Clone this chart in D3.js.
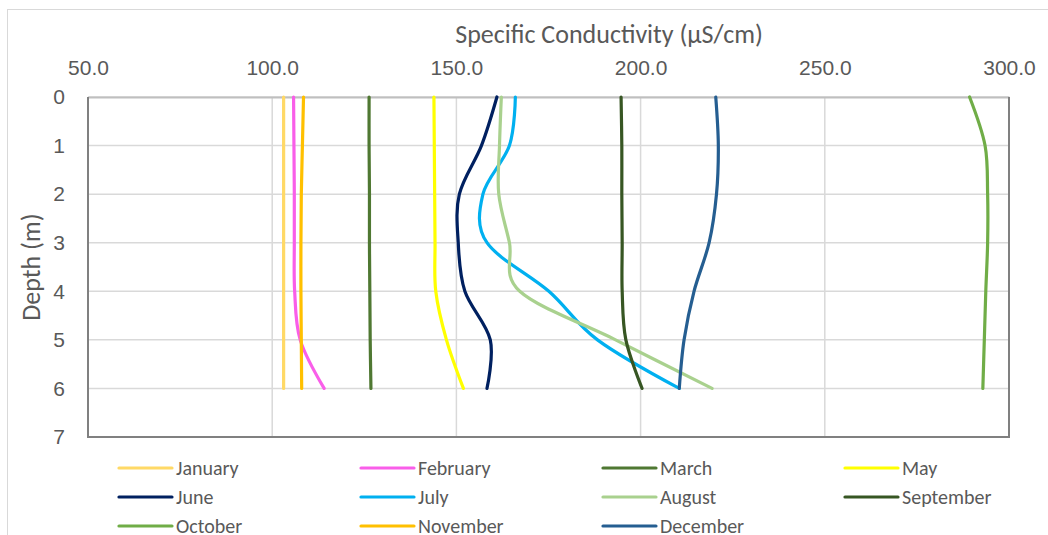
<!DOCTYPE html>
<html>
<head>
<meta charset="utf-8">
<script src="https://cdn.jsdelivr.net/npm/d3@7"></script>
<style>
	body { margin: 0; background: #fff; }
	svg { display: block; font-family: Carlito, "Open Sans", sans-serif; }
	.tick text { fill: #595959; }
</style>
</head>
<body>
<svg id="chart" width="1048" height="535"></svg>
<script>
'use strict';

//Depths sampled (m)
var depths = [0, 1, 2, 3, 4, 5, 6];

//Conductivity per month, one value for each depth
var months = ["January", "February", "March", "May", "June", "July", "August", "September", "October", "November", "December"];
var january   = [103.1, 103.1, 103.1, 103.1, 103.1, 103.1, 103.1];
var february  = [105.8, 105.9, 106.0, 106.0, 106.1, 107.6, 114.1];
var march     = [126.3, 126.3, 126.4, 126.4, 126.5, 126.6, 126.8];
var may       = [143.9, 144.0, 144.1, 144.2, 144.4, 147.3, 151.9];
var june      = [161.0, 156.8, 150.8, 150.5, 152.3, 159.2, 158.3];
var july      = [166.0, 164.4, 157.2, 158.3, 175.1, 188.3, 210.5];
var august    = [162.2, 161.7, 161.5, 164.4, 167.2, 193.2, 219.4];
var september = [194.7, 194.9, 194.9, 195.0, 195.0, 196.0, 200.4];
var october   = [289.3, 293.5, 294.2, 294.2, 293.7, 293.3, 292.9];
var november  = [108.5, 108.2, 107.9, 107.8, 107.8, 107.9, 108.0];
var december  = [220.4, 221.1, 220.6, 218.6, 214.5, 211.8, 210.5];

var xTicks = [50, 100, 150, 200, 250, 300];
var yTicks = [0, 1, 2, 3, 4, 5, 6, 7];

var colors = ["#ffd966", "#f95ee9", "#4f7832", "#ffff00", "#002060", "#00b0f0", "#a9d18e", "#375623", "#70ad47", "#ffc000", "#255e91"];

var seriesValues = [january, february, march, may, june, july, august, september, october, november, december];

var series = months.map(function(name, i) {
	return {
		name: name,
		color: colors[i],
		points: depths.map(function(d, j) { return { depth: d, value: seriesValues[i][j] }; })
	};
});

var svg = d3.select("#chart");

//Outer chart border
svg.append("rect")
	.attr("x", 7.5).attr("y", 9.5)
	.attr("width", 1100).attr("height", 600)
	.attr("fill", "none")
	.attr("stroke", "#d9d9d9");

var plot = { left: 88, top: 97, right: 1009, bottom: 437 };

var x = d3.scaleLinear().domain([50, 300]).range([plot.left, plot.right]);
var y = d3.scaleLinear().domain([0, 7]).range([plot.top, plot.bottom]);

//Gridlines
var grid = svg.append("g");
grid.selectAll(".vgrid").data(xTicks).enter().append("line")
	.attr("x1", function(d) { return x(d); }).attr("x2", function(d) { return x(d); })
	.attr("y1", plot.top).attr("y2", plot.bottom)
	.attr("stroke", "#d9d9d9").attr("stroke-width", 1.5);
grid.selectAll(".hgrid").data(yTicks).enter().append("line")
	.attr("x1", plot.left).attr("x2", plot.right)
	.attr("y1", function(d) { return y(d); }).attr("y2", function(d) { return y(d); })
	.attr("stroke", "#d9d9d9").attr("stroke-width", 1.5);

//Axes
var xAxis = svg.append("g")
	.attr("transform", "translate(0," + plot.top + ")")
	.call(d3.axisTop(x).tickValues(xTicks).tickFormat(d3.format(".1f")).tickSize(0).tickPadding(22));
xAxis.select(".domain").attr("stroke", "#bfbfbf").attr("stroke-width", 2);
xAxis.selectAll("text").style("font-size", "21px");

var yAxis = svg.append("g")
	.attr("transform", "translate(" + plot.left + ",0)")
	.call(d3.axisLeft(y).tickValues(yTicks).tickFormat(d3.format("d")).tickSize(0).tickPadding(23));
yAxis.select(".domain").remove();
yAxis.selectAll("text").style("font-size", "21px");

//Plot frame (left, bottom, right)
svg.append("path")
	.attr("d", "M" + plot.left + "," + plot.top + "V" + plot.bottom + "H" + plot.right + "V" + plot.top)
	.attr("fill", "none")
	.attr("stroke", "#808080")
	.attr("stroke-width", 2);

//Axis titles
svg.append("text")
	.attr("x", 609).attr("y", 43)
	.attr("text-anchor", "middle")
	.attr("fill", "#595959")
	.style("font-size", "26px")
	.text("Specific Conductivity (µS/cm)");

svg.append("text")
	.attr("transform", "translate(40," + ((plot.top + plot.bottom) / 2) + ") rotate(-90)")
	.attr("text-anchor", "middle")
	.attr("fill", "#595959")
	.style("font-size", "26px")
	.text("Depth (m)");

//Series lines
var line = d3.line()
	.x(function(d) { return x(d.value); })
	.y(function(d) { return y(d.depth); })
	.curve(d3.curveCatmullRom.alpha(0));

svg.append("g").selectAll(".series").data(series).enter().append("path")
	.attr("d", function(d) { return line(d.points); })
	.attr("fill", "none")
	.attr("stroke", function(d) { return d.color; })
	.attr("stroke-width", 3.2)
	.attr("stroke-linecap", "round");

//Legend, 4 columns
var legend = svg.append("g");
var legendItem = legend.selectAll(".legend-item").data(series).enter().append("g")
	.attr("transform", function(d, i) {
		return "translate(" + (119 + (i % 4) * 242) + "," + (468 + Math.floor(i / 4) * 29) + ")";
	});

legendItem.append("line")
	.attr("x1", 0).attr("x2", 53)
	.attr("stroke", function(d) { return d.color; })
	.attr("stroke-width", 3.2)
	.attr("stroke-linecap", "round");

legendItem.append("text")
	.attr("x", 57).attr("y", 7)
	.attr("fill", "#595959")
	.style("font-size", "20px")
	.text(function(d) { return d.name; });
</script>
</body>
</html>
